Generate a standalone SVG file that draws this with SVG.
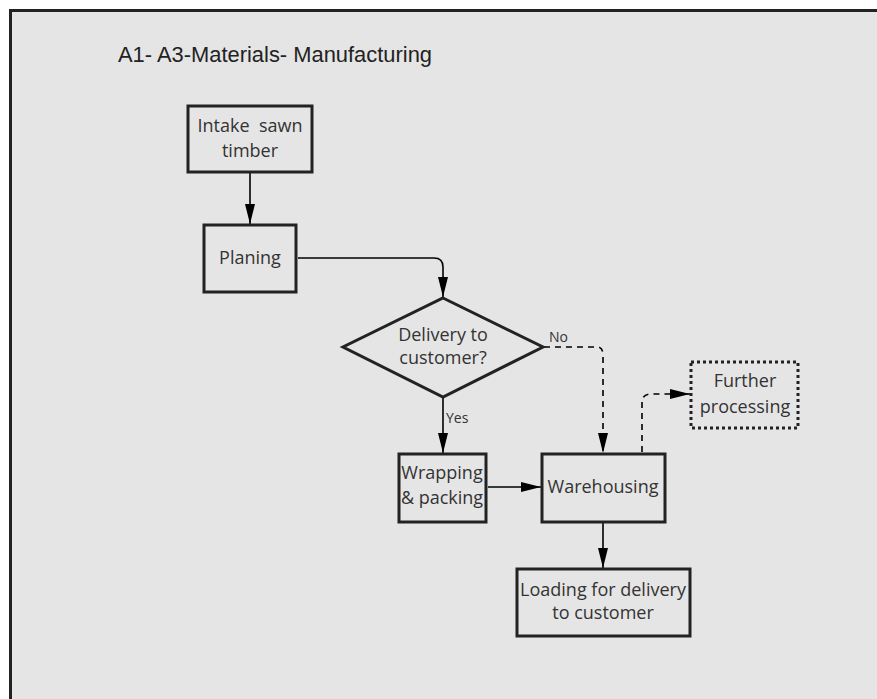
<svg xmlns="http://www.w3.org/2000/svg" width="877" height="699" viewBox="0 0 877 699">
<defs>
<marker id="ah" markerWidth="20" markerHeight="10" refX="20" refY="5" orient="auto" markerUnits="userSpaceOnUse" viewBox="0 0 20 10">
<path d="M0,0 L20,5 L0,10 Z" fill="#000"/>
</marker>
</defs>
<style>
.box{fill:#e5e5e5;stroke:#222;stroke-width:3}
.dot{fill:#e5e5e5;stroke:#222;stroke-width:3;stroke-dasharray:3 3}
.t{font-family:"Open Sans","Noto Sans",sans-serif;font-size:18px;fill:#333;text-anchor:middle}
.lbl{font-family:"Open Sans","Noto Sans",sans-serif;font-size:14px;fill:#333}
.c{fill:none;stroke:#000;stroke-width:1.6}
.d{fill:none;stroke:#000;stroke-width:1.6;stroke-dasharray:6 5}
</style>
<rect x="0" y="0" width="877" height="699" fill="#fff"/>
<rect x="10.5" y="10.5" width="880" height="700" fill="#e5e5e5" stroke="#222" stroke-width="3"/>
<text x="118" y="62" font-family="'Liberation Sans',Arial,sans-serif" font-size="22" fill="#222" textLength="314" lengthAdjust="spacingAndGlyphs">A1- A3-Materials- Manufacturing</text>
<g id="connectors">
<path class="c" d="M250,173 V224" marker-end="url(#ah)"/>
<path class="c" d="M298,258 H434 Q443,258 443,267 V297" marker-end="url(#ah)"/>
<path class="c" d="M443,398 V453" marker-end="url(#ah)"/>
<text class="lbl" x="446" y="423">Yes</text>
<path class="d" d="M544,347 H597 Q603,347 603,355 V453" marker-end="url(#ah)"/>
<text class="lbl" x="549" y="342">No</text>
<path class="c" d="M488,487 H541" marker-end="url(#ah)"/>
<path class="d" d="M642,452 V402 Q642,394 652,394 H690" marker-end="url(#ah)"/>
<path class="c" d="M603,523 V568" marker-end="url(#ah)"/>
</g>
<g id="intake">
<rect class="box" x="188" y="106" width="124" height="66"/>
<text class="t" x="250" y="132" style="white-space:pre" xml:space="preserve">Intake  sawn</text>
<text class="t" x="250" y="157">timber</text>
</g>
<g id="planing">
<rect class="box" x="204" y="225" width="92" height="67"/>
<text class="t" x="250" y="264">Planing</text>
</g>
<g id="decision">
<polygon class="box" points="443,298 543,347 443,397 343,347"/>
<text class="t" x="443" y="341">Delivery to</text>
<text class="t" x="443" y="364">customer?</text>
</g>
<g id="wrapping">
<rect class="box" x="399" y="454" width="87" height="68"/>
<text class="t" x="442" y="479">Wrapping</text>
<text class="t" x="442" y="504">&amp; packing</text>
</g>
<g id="warehousing">
<rect class="box" x="542" y="454" width="123" height="68"/>
<text class="t" x="603" y="493">Warehousing</text>
</g>
<g id="further">
<rect class="dot" x="691" y="362" width="107" height="66"/>
<text class="t" x="745" y="387">Further</text>
<text class="t" x="745" y="413">processing</text>
</g>
<g id="loading">
<rect class="box" x="517" y="569" width="173" height="67"/>
<text class="t" x="603" y="596">Loading for delivery</text>
<text class="t" x="603" y="619">to customer</text>
</g>
</svg>
